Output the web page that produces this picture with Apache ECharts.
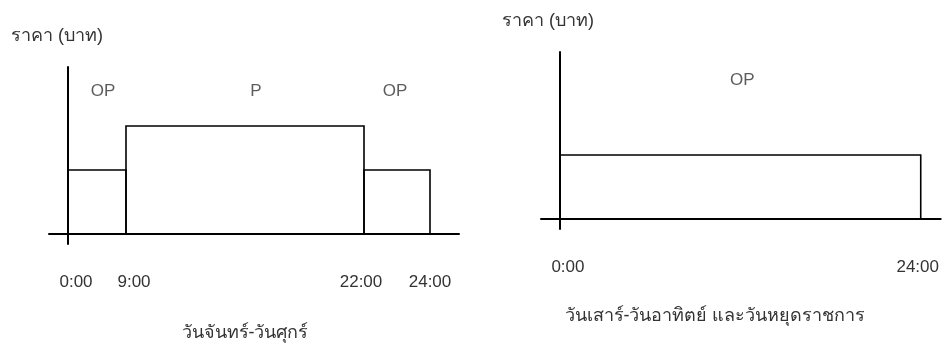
<!DOCTYPE html>
<html>
<head>
<meta charset="utf-8">
<script src="https://cdn.jsdelivr.net/npm/echarts@6/dist/echarts.min.js"></script>
<style>
html,body{margin:0;padding:0;background:#fff;}
#c{width:942px;height:347px;}
</style>
</head>
<body>
<div id="c"></div>
<script>
// Schematic diagram (not to scale): x positions are in diagram units along the time axis.
const weekdayTickLabels = ['0:00', '9:00', '22:00', '24:00'];
const weekdayTickPos = [0, 58, 296, 362];
// periods: [start, end, price level]
const weekdayPeriods = [[0, 58, 64], [58, 296, 108], [296, 362, 64]];
const weekdayPeriodNames = ['OP', 'P', 'OP'];
const weekdayNamePos = [[35, 143], [188, 143], [327, 143]];

const weekendTickLabels = ['0:00', '24:00'];
const weekendTickPos = [0, 362];
const weekendPeriods = [[0, 362, 64]];
const weekendPeriodNames = ['OP'];
const weekendNamePos = [[183, 139]];

const yTitle = 'ราคา (บาท)';
const weekdayTitle = 'วันจันทร์-วันศุกร์';
const weekendTitle = 'วันเสาร์-วันอาทิตย์ และวันหยุดราชการ';

const FONT = '"Liberation Sans", Arial, sans-serif';
const TXT = '#333';

// small label nudges (style only)
const labelRich = {
  r: { padding: [0, 0, 0, 16], fontSize: 17, color: TXT, fontFamily: FONT },
  c: { padding: 0, fontSize: 17, color: TXT, fontFamily: FONT },
  l: { padding: [0, 6, 0, 0], fontSize: 17, color: TXT, fontFamily: FONT }
};

function rectSeries(idx, periods) {
  return {
    type: 'custom',
    xAxisIndex: idx, yAxisIndex: idx,
    data: periods,
    silent: true,
    renderItem: function (params, api) {
      const p0 = api.coord([api.value(0), 0]);
      const p1 = api.coord([api.value(1), api.value(2)]);
      return {
        type: 'rect',
        shape: { x: p0[0], y: p1[1], width: p1[0] - p0[0], height: p0[1] - p1[1] },
        style: { fill: 'none', stroke: '#000', lineWidth: 1.6 }
      };
    }
  };
}
function nameSeries(idx, names, pos) {
  return {
    type: 'scatter', xAxisIndex: idx, yAxisIndex: idx, silent: true,
    symbolSize: 0,
    data: pos.map((p, i) => ({ value: p, name: names[i] })),
    label: { show: true, position: 'inside', formatter: '{b}', color: TXT, fontSize: 17, fontFamily: FONT }
  };
}
function xAxis(idx, ticks, labels, max, styles) {
  return {
    type: 'value', gridIndex: idx, min: -19, max: max,
    axisLine: { show: true, onZero: true, lineStyle: { color: '#000', width: 2 } },
    axisTick: { show: false }, splitLine: { show: false },
    axisLabel: {
      show: true, customValues: ticks, margin: 30, color: TXT, fontSize: 17, fontFamily: FONT,
      rich: labelRich,
      formatter: v => {
        const i = ticks.indexOf(v);
        return i < 0 ? '' : '{' + styles[i] + '|' + labels[i] + '}';
      }
    }
  };
}
function yAxis(idx) {
  return {
    type: 'value', gridIndex: idx, min: -10, max: 167,
    axisLine: { show: true, onZero: true, lineStyle: { color: '#000', width: 2 } },
    axisTick: { show: false }, splitLine: { show: false }, axisLabel: { show: false }
  };
}

const titleStyle = { fontSize: 18, fontWeight: 'normal', color: TXT, fontFamily: FONT };
const chart = echarts.init(document.getElementById('c'));
chart.setOption({
  animation: false,
  backgroundColor: '#fff',
  textStyle: { fontFamily: FONT },
  title: [
    { text: yTitle, left: 11, top: 27, textStyle: titleStyle, padding: 0 },
    { text: yTitle, left: 502, top: 12, textStyle: titleStyle, padding: 0 },
    { text: weekdayTitle, left: 245, top: 324, textAlign: 'center', textStyle: titleStyle, padding: 0 },
    { text: weekendTitle, left: 715, top: 307, textAlign: 'center', textStyle: titleStyle, padding: 0 }
  ],
  grid: [
    { left: 49, top: 67, width: 410, height: 177 },
    { left: 541, top: 52, width: 401, height: 177 }
  ],
  xAxis: [
    xAxis(0, weekdayTickPos, weekdayTickLabels, 391, ['r', 'r', 'l', 'c']),
    xAxis(1, weekendTickPos, weekendTickLabels, 382, ['r', 'l'])
  ],
  yAxis: [yAxis(0), yAxis(1)],
  series: [
    rectSeries(0, weekdayPeriods),
    rectSeries(1, weekendPeriods),
    nameSeries(0, weekdayPeriodNames, weekdayNamePos),
    nameSeries(1, weekendPeriodNames, weekendNamePos)
  ]
});
</script>
</body>
</html>
